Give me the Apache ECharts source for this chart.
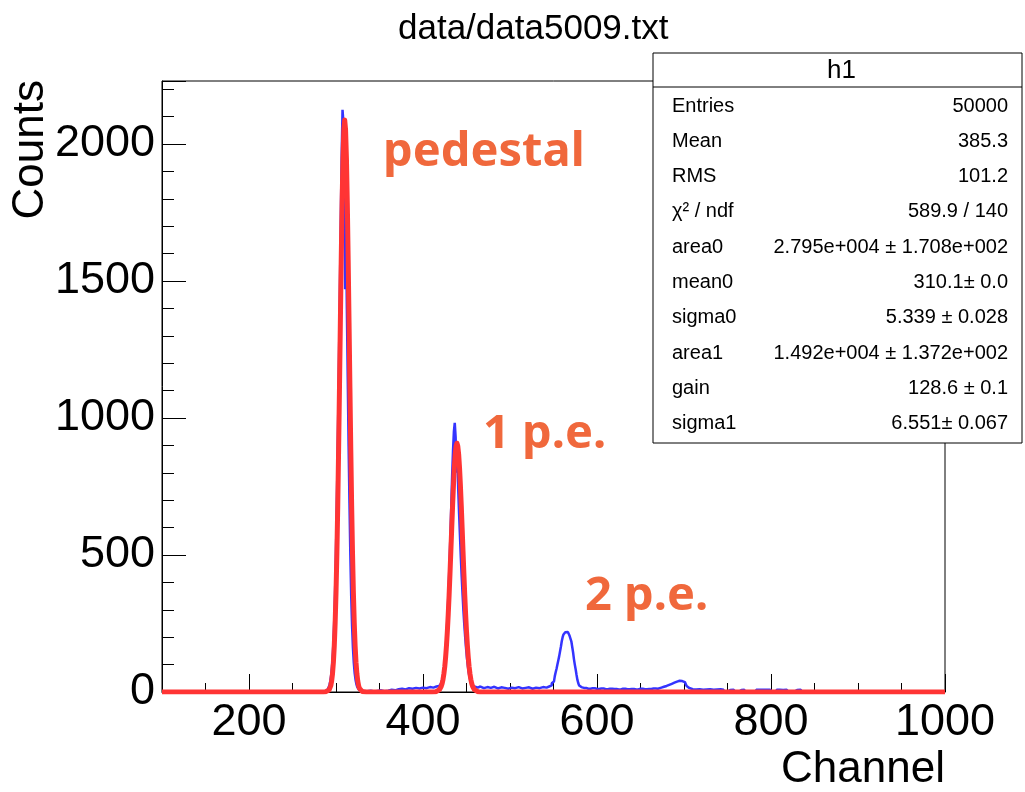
<!DOCTYPE html>
<html><head><meta charset="utf-8">
<script src="https://cdn.jsdelivr.net/npm/echarts@6/dist/echarts.min.js"></script>
<style>html,body{margin:0;padding:0;background:#fff}#c{width:1025px;height:792px}</style>
</head><body><div id="c"></div>
<script>
const titleText = 'data/data5009.txt';
const xAxisTitle = 'Channel';
const yAxisTitle = 'Counts';
const xTickLabels = [200, 400, 600, 800, 1000];
const yTickLabels = [0, 500, 1000, 1500, 2000];

// measured histogram (blue), bin centre -> counts
const blueX = [100,284,286,288,290,291,292,293,294,295,296,297,298,299,300,301,302,303,304,305,306,307,308,309,310,311,312,313,314,315,316,317,318,319,320,321,322,323,324,325,326,327,328,330,334,338,342,346,350,354,358,362,366,370,374,378,382,386,390,394,398,402,406,410,414,417,420,421,422,423,424,425,426,427,428,429,430,431,432,433,434,435,436,437,438,439,440,441,442,443,444,445,446,447,448,449,450,451,452,453,454,455,456,457,458,460,463,466,470,474,478,482,486,490,494,498,502,506,510,514,518,522,526,530,534,538,542,545,547,549,550,551,552,553,554,555,556,557,558,559,560,561,562,563,564,565,566,567,568,569,570,571,572,573,574,575,576,577,578,579,580,582,585,590,595,600,605,610,615,620,625,630,635,640,645,650,655,660,665,670,674,677,680,683,686,689,692,695,698,700,702,704,706,708,712,716,720,724,728,732,736,740,744,747,753,757,761,764,768,771,795,799,803,810,814,818,822,830,834,838,1000];
const blueY = [0,0,1,3,6,10,16,26,40,62,95,145,215,310,440,600,790,1000,1230,1470,1720,1950,2125,2080,1990,1470,1700,1400,1150,900,690,500,350,240,160,105,68,44,28,18,12,8,6,4,3,5,2,4,6,3,5,8,6,10,12,9,14,12,15,13,16,14,18,16,20,22,25,30,38,50,70,95,130,175,230,300,380,470,570,680,790,880,950,982,930,800,860,740,650,570,490,420,355,295,245,200,160,125,96,72,54,42,33,27,22,19,16,20,14,18,15,19,13,17,15,12,16,14,18,13,15,17,12,16,14,18,16,20,24,32,38,45,58,72,85,100,115,130,148,165,185,200,210,215,218,220,219,216,213,205,195,185,165,145,120,100,82,62,44,32,24,18,15,12,14,11,13,10,12,11,9,12,10,11,9,12,10,11,13,12,16,19,22,26,30,34,38,41,40,36,30,22,15,10,9,10,8,9,10,8,9,10,8,0,7,8,0,7,8,0,8,8,0,8,7,8,0,7,8,0,0];

// fit function (red), channel -> value
const redX = [100,285,288,290,292,293,294,295,296,297,298,299,300,301,302,303,304,305,306,307,308,309,310,311,312,313,314,315,316,317,318,319,320,321,322,323,324,325,326,327,328,330,332,335,410,415,417,419,420,421,422,423,424,425,426,427,428,429,430,431,432,433,434,435,436,437,438,439,440,441,442,443,444,445,446,447,448,449,450,451,452,453,454,455,456,457,458,459,461,463,466,1000];
const redY = [0,0,1,2,7,13,23,40,67,108,167,250,361,504,679,884,1110,1347,1577,1783,1947,2052,2088,2052,1947,1783,1577,1347,1110,884,679,504,361,250,167,108,67,40,23,13,7,2,1,0,0,1,3,9,14,21,31,46,66,92,127,170,222,283,353,431,513,597,679,753,818,867,897,908,897,867,818,753,679,597,513,431,353,283,222,170,127,92,66,46,31,21,14,9,3,1,0,0];

const statsHeader = 'h1';
const statsLabels = ['Entries', 'Mean', 'RMS', 'χ² / ndf', 'area0', 'mean0', 'sigma0', 'area1', 'gain', 'sigma1'];
const statsValues = ['50000', '385.3', '101.2', '589.9 / 140', '2.795e+004 ± 1.708e+002', '310.1± 0.0', '5.339 ± 0.028', '1.492e+004 ± 1.372e+002', '128.6 ± 0.1', '6.551± 0.067'];
const annotations = ['pedestal', '1 p.e.', '2 p.e.'];

const FONT = 'Liberation Sans, Arial, Helvetica, sans-serif';
const blueData = blueX.map((x, i) => [x, blueY[i]]);
const redData = redX.map((x, i) => [x, redY[i]]);

const chart = echarts.init(document.getElementById('c'), null, {renderer: 'canvas'});

const boxX = 653, boxY = 53, boxW = 369, boxH = 390, headH = 34, rowH = 35.3, row0 = 106;
const graphics = [
  {type: 'text', x: 31, y: 80, rotation: Math.PI / 2, z: 50,
   style: {text: yAxisTitle, font: '44px ' + FONT, fill: '#000', align: 'right', verticalAlign: 'middle'}},
  {type: 'text', x: 945, y: 770, z: 50,
   style: {text: xAxisTitle, font: '44px ' + FONT, fill: '#000', align: 'right', verticalAlign: 'middle'}},
  {type: 'rect', z: 60, shape: {x: boxX, y: boxY, width: boxW, height: boxH},
   style: {fill: '#fff', stroke: '#000', lineWidth: 1}},
  {type: 'line', z: 61, shape: {x1: boxX, y1: boxY + headH, x2: boxX + boxW, y2: boxY + headH},
   style: {stroke: '#000', lineWidth: 1}},
  {type: 'text', z: 62, x: boxX + boxW / 2 + 4, y: boxY + headH / 2 + 1,
   style: {text: statsHeader, font: '26px ' + FONT, fill: '#000', align: 'center', verticalAlign: 'middle'}}
];
statsLabels.forEach((lab, i) => {
  graphics.push({type: 'text', z: 62, x: 672, y: row0 + i * rowH,
    style: {text: lab, font: '20px ' + FONT, fill: '#000', align: 'left', verticalAlign: 'middle'}});
  graphics.push({type: 'text', z: 62, x: 1008, y: row0 + i * rowH,
    style: {text: statsValues[i], font: '20px ' + FONT, fill: '#000', align: 'right', verticalAlign: 'middle'}});
});
const annPos = [[383, 153], [483, 435], [585, 597]];
annotations.forEach((t, i) => {
  graphics.push({type: 'text', z: 40, x: annPos[i][0], y: annPos[i][1],
    style: {text: t, font: 'bold 47px "Noto Sans", "Open Sans", sans-serif', fill: '#f0683c', align: 'left', verticalAlign: 'middle'}});
});

const option = {
  animation: false,
  backgroundColor: '#fff',
  title: {text: titleText, left: 393, top: 7,
    textStyle: {fontFamily: FONT, fontSize: 35, fontWeight: 'normal', color: '#000'}},
  grid: {left: 162, right: 80, top: 81, bottom: 100, show: true, borderColor: '#000', borderWidth: 1,
    backgroundColor: 'transparent', containLabel: false, outerBoundsMode: 'none'},
  xAxis: [
    {type: 'value', min: 100, max: 1000, interval: 50, position: 'bottom',
     axisLine: {show: true, onZero: false, lineStyle: {color: '#000', width: 1}},
     axisTick: {show: true, inside: true, length: 9, lineStyle: {color: '#000', width: 1}},
     axisLabel: {show: true, margin: 8, fontSize: 45, fontFamily: FONT, color: '#000', showMinLabel: true, showMaxLabel: true,
       hideOverlap: false,
       formatter: v => (xTickLabels.indexOf(v) >= 0 ? String(v) : '')},
     splitLine: {show: false}},
    {type: 'value', min: 100, max: 1000, position: 'bottom',
     axisLine: {show: false, onZero: false},
     axisTick: {show: true, inside: true, length: 18, customValues: xTickLabels, lineStyle: {color: '#000', width: 1}},
     axisLabel: {show: false},
     splitLine: {show: false}}
  ],
  yAxis: [
    {type: 'value', min: 0, max: 2230, interval: 100, position: 'left',
     axisLine: {show: true, onZero: false, lineStyle: {color: '#000', width: 1}},
     axisTick: {show: true, inside: true, length: 12, lineStyle: {color: '#000', width: 1}},
     axisLabel: {show: true, margin: 7, fontSize: 45, fontFamily: FONT, color: '#000', showMinLabel: true, showMaxLabel: true,
       hideOverlap: false,
       formatter: v => (yTickLabels.indexOf(v) >= 0 ? String(v) : '')},
     splitLine: {show: false}},
    {type: 'value', min: 0, max: 2230, interval: 500, position: 'left', offset: 0,
     axisLine: {show: false, onZero: false},
     axisTick: {show: true, inside: true, length: 24, lineStyle: {color: '#000', width: 1}},
     axisLabel: {show: false},
     splitLine: {show: false}}
  ],
  series: [
    {name: 'data', type: 'line', step: 'middle', data: blueData, xAxisIndex: 0, yAxisIndex: 0,
     showSymbol: false, symbol: 'none', lineStyle: {color: '#3434ff', width: 2.5}, z: 3, clip: true},
    {name: 'fit', type: 'line', data: redData, xAxisIndex: 0, yAxisIndex: 0,
     showSymbol: false, symbol: 'none', lineStyle: {color: '#ff3434', width: 5, join: 'round'}, z: 4, clip: true}
  ],
  graphic: graphics
};
chart.setOption(option);
</script></body></html>
